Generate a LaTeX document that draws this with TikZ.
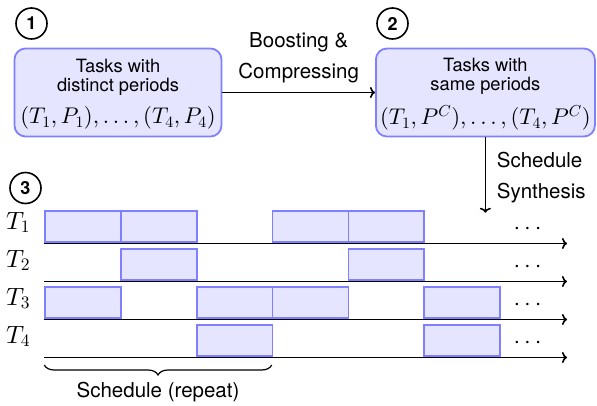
\documentclass[tikz,border=0pt]{standalone}
\usepackage[no-math]{fontspec}
\setmainfont{TeX Gyre Heros}
\DeclareFontShape{OT1}{cmr}{m}{n}{<->cmr10}{}
\DeclareFontShape{OML}{cmm}{m}{it}{<->cmmi10}{}
\DeclareFontShape{OMS}{cmsy}{m}{n}{<->cmsy10}{}
\usetikzlibrary{arrows.meta,decorations.pathreplacing}
\newcommand{\boxmath}{\fontsize{22.7}{24}\selectfont}
\newcommand{\toprule}{\rule{0pt}{17pt}}
\begin{document}
\begin{tikzpicture}[x=1pt,y=-1pt,
  lbl/.style={font=\fontsize{20.5}{31}\selectfont, inner sep=0pt},
  taskbox/.style={draw=blue!50, fill=blue!10, line width=1.8pt, rounded corners=11pt,
    minimum height=88pt, align=center, inner sep=0pt,
    font=\fontsize{18.3}{19.3}\selectfont},
  num/.style={circle, draw, line width=1.6pt, minimum size=31pt, inner sep=0pt,
    font=\fontsize{18}{18}\selectfont\bfseries},
  blk/.style={draw=blue!50, fill=blue!10, line width=1.6pt, minimum width=75.8pt,
    minimum height=31pt, inner sep=0pt, anchor=south west},
  conn/.style={line width=1.6pt, -{To[length=5pt,width=11pt]}},
  tlab/.style={font=\fontsize{25}{25}\selectfont, inner sep=0pt, anchor=base west},
  dotlab/.style={font=\fontsize{24}{24}\selectfont, inner sep=0pt, anchor=base}
]
\useasboundingbox (0,0) rectangle (597,405);

% step circles
\node[num] (c1) at (31.5,23.5) {1};
\node[num] (c2) at (392.5,23.5) {2};
\node[num] (c3) at (25.5,188) {3};

% task boxes
\node[taskbox, minimum width=207pt] (b1) at (118,92.5)
  {\toprule Tasks with\\distinct periods\\[10pt]\boxmath$(T_1,P_1),\ldots,(T_4,P_4)$};
\node[taskbox, minimum width=219pt] (b2) at (485.4,92.5)
  {\toprule Tasks with\\same periods\\[10pt]\boxmath$(T_1,P^C),\ldots,(T_4,P^C)$};

\draw[conn] (b1.east) -- (b2.west);
\node[lbl, align=center, anchor=north] (l1) at (298.7,32.3) {Boosting \&\\Compressing};

\coordinate (sd) at (485.4,212.7);
\draw[conn] (b2.south) -- (sd);
\node[lbl, align=left, anchor=north west] (l2) at (496.7,151.9) {Schedule\\Synthesis};

% timelines
\foreach \i/\y in {1/243.5,2/281.5,3/319.5,4/357.5}{
  \coordinate (s\i) at (44.3,\y);
  \coordinate (e\i) at (567,\y);
  \node[tlab] (t\i) at (6,\y-14.3) {$T_\i$};
  \node[dotlab] (d\i) at (527.5,\y-15.3+6) {$\cdots$};
}

% blocks
\foreach \k in {0,1,3,4}{\node[blk] (bA\k) at (44.3+75.8*\k,243.5-1) {};}
\foreach \k in {1,4}{\node[blk] (bB\k) at (44.3+75.8*\k,281.5-1) {};}
\foreach \k in {0,2,3,5}{\node[blk] (bC\k) at (44.3+75.8*\k,319.5-1) {};}
\foreach \k in {2,5}{\node[blk] (bD\k) at (44.3+75.8*\k,357.5-1) {};}

\foreach \i in {1,2,3,4}{\draw[conn] (s\i) -- (e\i);}

% brace
\coordinate (bl) at (44.3,365);
\coordinate (br) at (271.7,365);
\draw[line width=1.2pt, decorate, decoration={brace, mirror, amplitude=10pt}] (bl) -- (br);
\node[lbl, anchor=base] (l3) at (158,397.3) {Schedule (repeat)};
\end{tikzpicture}
\end{document}
